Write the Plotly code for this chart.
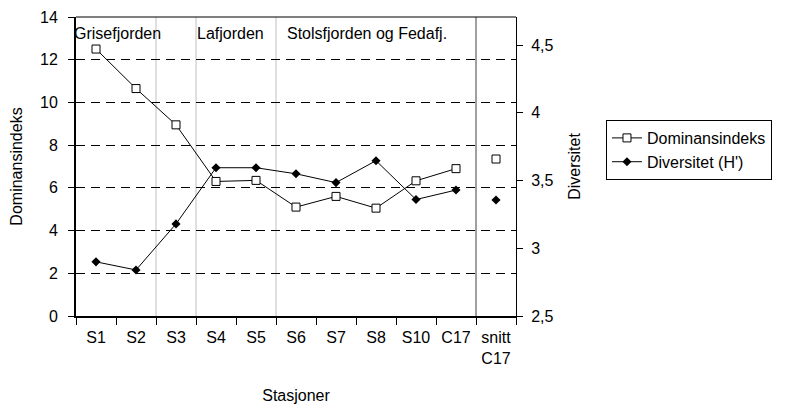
import plotly.graph_objects as go

stasjoner = ["S1", "S2", "S3", "S4", "S5", "S6", "S7", "S8", "S10", "C17", "snitt<br>C17"]
dominans = [12.5, 10.65, 8.95, 6.3, 6.35, 5.1, 5.6, 5.05, 6.33, 6.9, 7.35]
diversitet = [2.9, 2.84, 3.18, 3.595, 3.595, 3.55, 3.485, 3.647, 3.36, 3.43, 3.357]

omraader = ["Grisefjorden", "Lafjorden", "Stolsfjorden og Fedafj."]
omraade_x = [-0.009, 0.2705, 0.475]

# category boundaries with grey separators (index + 0.5)
skiller = [1.5, 2.5, 4.5]
snitt_skille = 9.5

font = "Liberation Sans, Arial, sans-serif"

fig = go.Figure()

fig.add_trace(go.Scatter(
    x=stasjoner[:-1],
    y=dominans[:-1],
    name="Dominansindeks",
    mode="lines+markers",
    line=dict(color="black", width=1),
    marker=dict(symbol="square", size=8, color="white",
                line=dict(color="black", width=1))
))

fig.add_trace(go.Scatter(
    x=stasjoner[:-1],
    y=diversitet[:-1],
    name="Diversitet (H')",
    mode="lines+markers",
    yaxis="y2",
    line=dict(color="black", width=1),
    marker=dict(symbol="diamond", size=7, color="black")
))

fig.add_trace(go.Scatter(
    x=stasjoner[-1:],
    y=dominans[-1:],
    mode="markers",
    showlegend=False,
    marker=dict(symbol="square", size=8, color="white",
                line=dict(color="black", width=1))
))

fig.add_trace(go.Scatter(
    x=stasjoner[-1:],
    y=diversitet[-1:],
    mode="markers",
    yaxis="y2",
    showlegend=False,
    marker=dict(symbol="diamond", size=7, color="black")
))

for s in skiller:
    fig.add_shape(type="line", xref="x", yref="paper", x0=s, x1=s, y0=0, y1=1,
                  line=dict(color="#c0c0c0", width=1), layer="below")

fig.add_shape(type="line", xref="x", yref="paper", x0=snitt_skille, x1=snitt_skille,
              y0=0, y1=1, line=dict(color="#808080", width=1.5), layer="below")

# top border of plot area
fig.add_shape(type="line", xref="paper", yref="paper", x0=0, x1=1, y0=1, y1=1,
              line=dict(color="black", width=1.2))

for tekst, xp in zip(omraader, omraade_x):
    fig.add_annotation(
        text=tekst, xref="paper", yref="paper", x=xp, y=0.946,
        xanchor="left", yanchor="middle", showarrow=False,
        font=dict(size=16, color="black", family=font)
    )

# page body has an 8px margin, so the figure is shrunk by that amount
fig.update_layout(
    width=778,
    height=399,
    margin=dict(l=68, r=270, t=9, b=91, autoexpand=False),
    paper_bgcolor="white",
    plot_bgcolor="white",
    separators=", ",
    font=dict(family=font, size=16, color="black"),
    xaxis=dict(
        type="category",
        categoryorder="array",
        categoryarray=stasjoner,
        range=[-0.5, 10.5],
        showline=True,
        linecolor="black",
        linewidth=2,
        ticks="outside",
        tickson="boundaries",
        ticklen=7,
        tickcolor="black",
        showgrid=False,
        ticklabelstandoff=6,
        title=dict(text="Stasjoner", standoff=24, font=dict(size=16)),
        tickfont=dict(size=16),
    ),
    yaxis=dict(
        range=[0, 14],
        tickvals=[0, 2, 4, 6, 8, 10, 12, 14],
        showline=True,
        linecolor="black",
        linewidth=2,
        ticks="outside",
        ticklen=6,
        tickcolor="black",
        showgrid=True,
        gridcolor="black",
        gridwidth=1,
        griddash="9px,6px",
        zeroline=False,
        ticklabelstandoff=7,
        title=dict(text="Dominansindeks", standoff=14, font=dict(size=16)),
        tickfont=dict(size=16),
    ),
    yaxis2=dict(
        overlaying="y",
        side="right",
        range=[2.5, 4.708],
        tickvals=[2.5, 3, 3.5, 4, 4.5],
        showline=True,
        linecolor="black",
        linewidth=1,
        ticks="outside",
        ticklen=6,
        tickcolor="black",
        showgrid=False,
        zeroline=False,
        ticklabelstandoff=5,
        title=dict(text="Diversitet", standoff=16, font=dict(size=16)),
        tickfont=dict(size=16),
    ),
    legend=dict(
        x=1.2045,
        y=0.6555,
        xanchor="left",
        yanchor="top",
        bordercolor="black",
        borderwidth=1,
        bgcolor="white",
        font=dict(size=16),
        tracegroupgap=0,
    ),
)

fig.write_html("out.html")
